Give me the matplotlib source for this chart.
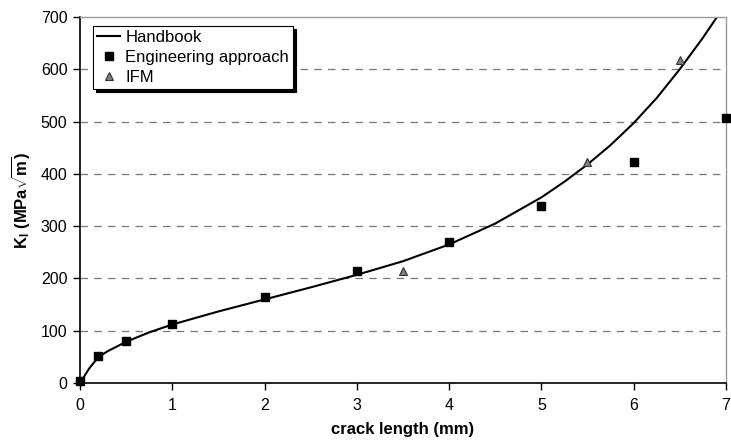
import matplotlib.pyplot as plt

plt.rcParams['font.family'] = ['Liberation Sans', 'DejaVu Sans']
plt.rcParams['mathtext.fontset'] = 'custom'
plt.rcParams['mathtext.rm'] = 'Liberation Sans'
plt.rcParams['mathtext.bf'] = 'Liberation Sans:bold'

# handbook solution
handbook_a = [0, 0.1, 0.2, 0.3, 0.5, 0.75, 1, 1.5, 2, 2.5, 3, 3.5,
              4, 4.5, 5, 5.25, 5.5, 5.75, 6, 6.25, 6.5, 6.75, 7]
handbook_k = [0, 28, 50, 61, 79, 97, 112, 137, 160, 183, 207, 233,
              265, 305, 355, 385, 418, 455, 497, 545, 600, 660, 725]

eng_a = [0, 0.2, 0.5, 1, 2, 3, 4, 5, 6, 7]
eng_k = [4, 52, 80, 113, 165, 214, 270, 338, 422, 507]

ifm_a = [3.5, 5.5, 6.5]
ifm_k = [214, 423, 617]

fig = plt.figure(figsize=(7.31, 4.46), dpi=100)
ax = fig.add_axes([0.1094, 0.141, 0.8836, 0.821])

for y in range(100, 700, 100):
    ax.axhline(y, color='#777777', lw=0.9, ls=(0, (6, 5)), zorder=0)

ax.plot(handbook_a, handbook_k, color='black', lw=1.5, label='Handbook', zorder=2)
ax.plot(eng_a, eng_k, ls='none', marker='s', ms=6, color='black',
        mec='black', label='Engineering approach', zorder=3, clip_on=False)
ax.plot(ifm_a, ifm_k, ls='none', marker='^', ms=6, mfc='#808080',
        mec='#333333', mew=0.8, label='IFM', zorder=3, clip_on=False)

ax.set_xlim(0, 7)
ax.set_ylim(0, 700)
ax.set_xticks(range(0, 8))
ax.set_yticks(range(0, 800, 100))

for side in ('top', 'right'):
    ax.spines[side].set_color('#999999')
    ax.spines[side].set_linewidth(1.0)
for side in ('left', 'bottom'):
    ax.spines[side].set_linewidth(1.2)
ax.tick_params(direction='out', length=5, width=1.0, labelsize=11.5, pad=4)
ax.tick_params(axis='x', pad=6)

ax.set_xlabel('crack length (mm)', fontsize=12, fontweight='bold', labelpad=6)
ax.set_ylabel(r'$\mathbf{K_I}$ (MPa$\mathbf{\sqrt{m}}$)', fontsize=12,
              fontweight='bold', labelpad=6)

leg = ax.legend(loc='upper left', bbox_to_anchor=(0.015, 0.985), fontsize=12,
                fancybox=False, shadow={'color': 'black', 'alpha': 1.0},
                framealpha=1, edgecolor='black', borderpad=0.25,
                handlelength=1.4, handletextpad=0.3, labelspacing=0.3,
                borderaxespad=0.2)
leg.get_frame().set_linewidth(0.8)

fig.savefig('out.png', dpi=100)
